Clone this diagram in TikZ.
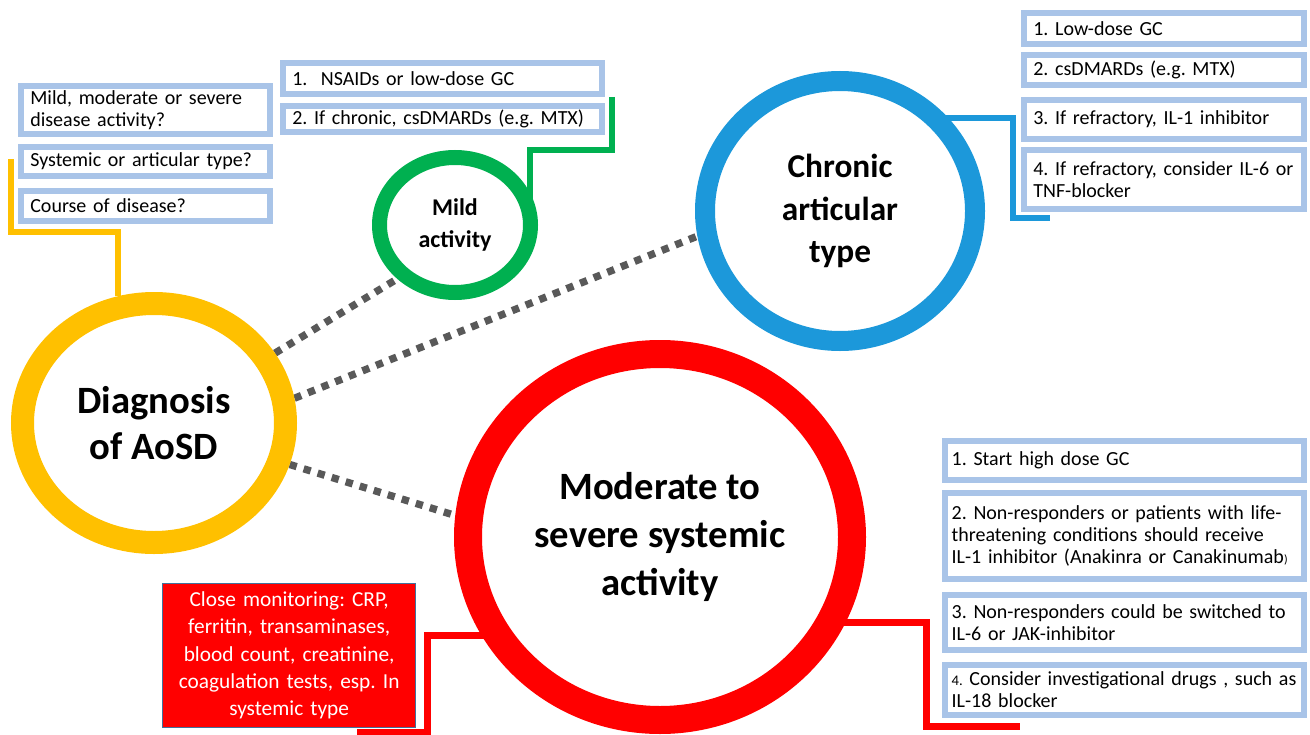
\documentclass[tikz,border=0pt]{standalone}
\usepackage{fontspec}
\setmainfont{Carlito}
\usetikzlibrary{shapes.geometric}

\definecolor{aosdyellow}{RGB}{255,192,0}
\definecolor{aosdgreen}{RGB}{0,176,80}
\definecolor{aosdblue}{RGB}{28,152,218}
\definecolor{aosdred}{RGB}{255,0,0}
\definecolor{boxblue}{RGB}{169,196,232}
\definecolor{dotgray}{RGB}{89,89,89}
\definecolor{monitorrim}{RGB}{65,113,156}

\pgfdeclarelayer{background}
\pgfsetlayers{background,main}

\tikzset{
  ring/.style={ellipse, fill=white, align=center, inner sep=0pt},
  infobox/.style={draw=boxblue, line width=4.5pt, fill=white, anchor=north west,
    align=left, inner xsep=7pt, inner ysep=1pt, font=\fontsize{15}{16.5}\selectfont},
  monitorbox/.style={draw=monitorrim, line width=0.75pt, fill=aosdred, text=white,
    anchor=north west, align=center, inner xsep=3pt,
    font=\fontsize{16}{20.5}\selectfont},
  elbow/.style={line width=4pt, line join=miter},
  dots/.style={draw=dotgray, line width=5.5pt, dash pattern=on 5.5pt off 5.5pt},
}

\begin{document}
\frenchspacing
\begin{tikzpicture}[x=0.75pt,y=0.75pt,yscale=-1,xscale=1]
\useasboundingbox (0,0) rectangle (1310,735);

% Circles
\node[ring, draw=aosdyellow, line width=17.25pt, minimum width=197.25pt, minimum height=179.25pt,
  font=\bfseries\fontsize{29}{35}\selectfont] (diag) at (154,423) {Diagnosis\\of AoSD};
\node[ring, draw=aosdgreen, line width=11.25pt, minimum width=113.25pt, minimum height=101.25pt,
  font=\bfseries\fontsize{18}{24}\selectfont] (mild) at (455,225) {Mild\\activity};
\node[ring, draw=aosdblue, line width=15pt, minimum width=202.5pt, minimum height=195pt,
  font=\bfseries\fontsize{25}{32}\selectfont] (chronic) at (840,211) {Chronic\\articular\\type};
\node[ring, draw=aosdred, line width=21pt, minimum width=288pt, minimum height=274.5pt,
  font=\bfseries\fontsize{29}{36}\selectfont] (moderate) at (660,537) {Moderate to\\severe systemic\\activity};

% Questions at diagnosis
\node[infobox, text width=173pt, minimum height=36pt] (qa) at (18,83) {Mild, moderate or severe\\disease activity?};
\node[infobox, text width=173pt, minimum height=21.75pt] (qb) at (18,144) {Systemic or articular type?};
\node[infobox, text width=173pt, minimum height=22.5pt] (qc) at (18,188) {Course of disease?};

% Mild activity
\node[infobox, text width=225pt, minimum height=23.25pt] (m1) at (280,60) {1.\ \ NSAIDs or low-dose GC};
\node[infobox, text width=225pt, minimum height=19.5pt] (m2) at (280,103) {2. If chronic, csDMARDs (e.g. MTX)};

% Chronic articular type
\node[infobox, text width=196pt, minimum height=23.25pt] (c1) at (1021,10) {1. Low-dose GC};
\node[infobox, text width=196pt, minimum height=22.5pt] (c2) at (1021,52) {2. csDMARDs (e.g. MTX)};
\node[infobox, text width=196pt, minimum height=29.25pt] (c3) at (1021,97) {3. If refractory, IL-1 inhibitor};
\node[infobox, text width=196pt, minimum height=44.25pt] (c4) at (1021,147) {4. If refractory, consider IL-6 or\\TNF-blocker};

% Moderate to severe systemic activity
\tikzset{modbox/.style={infobox, inner xsep=5pt, text width=259pt}}
\node[modbox, minimum height=29.25pt] (r1) at (942,438) {1. Start high dose GC};
\node[modbox, minimum height=64.5pt] (r2) at (942,490)
  {2. Non-responders or patients with life-\\threatening conditions should receive\\IL-1 inhibitor (Anakinra or Canakinumab{\small)}};
\node[modbox, minimum height=41.25pt] (r3) at (942,592)
  {3. Non-responders could be switched to\\IL-6 or JAK-inhibitor};
\node[modbox, minimum height=37.5pt] (r4) at (942,662)
  {{\fontsize{11}{12}\selectfont 4.} Consider investigational drugs , such as\\IL-18 blocker};

% Text Node
\node[monitorbox, text width=184pt, minimum height=108pt] (monitor) at (162,583)
  {Close monitoring: CRP,\\ferritin, transaminases,\\blood count, creatinine,\\coagulation tests, esp. In\\systemic type};

% bends of the connectors
\coordinate (yturn) at (11,232);
\coordinate (yend) at (11,159);
\coordinate (gstart) at (612,97);
\coordinate (gturn) at (530,150);
\coordinate (bturn) at (1013,118);
\coordinate (bend) at (1050,218);
\coordinate (rturn) at (926,622);
\coordinate (rend) at (1020,726);
\coordinate (lturn) at (427,635);
\coordinate (lend) at (357,732);

\begin{pgfonlayer}{background}
\draw[dots] (diag.30) -- (mild.223);
\draw[dots] (diag.10) -- (chronic.190);
\draw[dots] (diag.343) -- (moderate.174);
\draw[elbow, draw=aosdyellow, line width=4.5pt] (diag.106) |- (yturn) -- (yend);
\draw[elbow, draw=aosdgreen] (gstart) |- (gturn) -- (gturn |- mild.center);
\draw[elbow, draw=aosdblue] (chronic.center |- bturn) -- (bturn) |- (bend);
\draw[elbow, draw=aosdred, line width=5.25pt] (moderate.center |- rturn) -- (rturn) |- (rend);
\draw[elbow, draw=aosdred, line width=5.25pt] (moderate.center |- lturn) -- (lturn) |- (lend);
\end{pgfonlayer}
\end{tikzpicture}
\end{document}
